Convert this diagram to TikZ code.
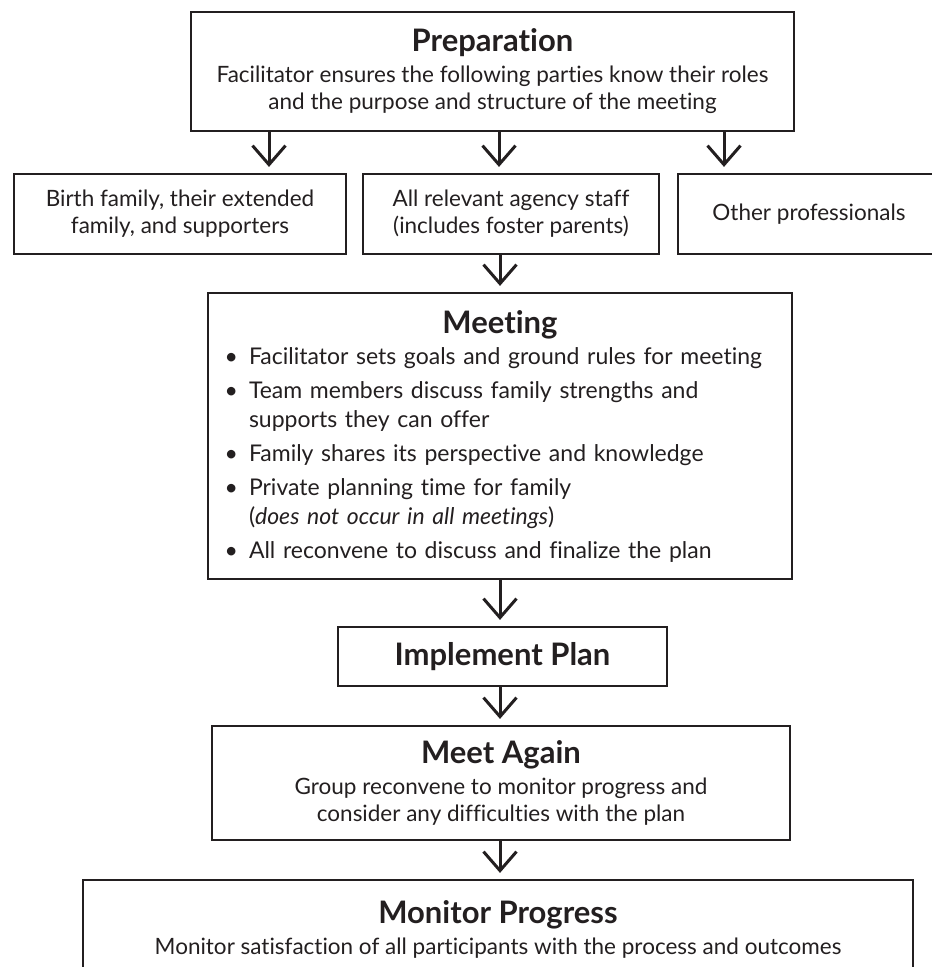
\documentclass[tikz,border=0pt]{standalone}
\usepackage{fontspec}
\setmainfont{Lato}[Ligatures=NoCommon]
\usetikzlibrary{positioning, arrows.meta, calc}
\definecolor{ink}{RGB}{35,31,32}
\newcommand{\ttl}[1]{{\fontsize{31}{27}\selectfont\bfseries #1}}

\begin{document}
\begin{tikzpicture}[x=1pt,y=-1pt,->,>={Straight Barb[length=19pt,width=33pt]},shorten >=6pt, line width=3pt, color=ink,
  box/.style={draw, shape=rectangle, align=center, inner sep=0pt, line width=2.2pt, font=\fontsize{22.5}{27}\selectfont}]
  \useasboundingbox (0,0) rectangle (932,967);
  % top box and the three parties
  \node[box, minimum width=603pt, minimum height=119pt] (prep) at (492.5,71.5)
    {\ttl{Preparation}\\[4pt] Facilitator ensures the following parties know their roles\\ and the purpose and structure of the meeting};
  \node[box, minimum width=332pt, minimum height=80pt] (birth) at (180,214) {Birth family, their extended\\ family, and supporters};
  \node[box, minimum width=296pt, minimum height=80pt] (staff) at (511,214) {All relevant agency staff\\ (includes foster parents)};
  \node[box, minimum width=262pt, minimum height=80pt] (other) at (809,214) {Other professionals};
  % meeting
  \node[box, text width=540pt, inner xsep=22pt, minimum height=286pt, align=left, font=\fontsize{23}{29}\selectfont] (meeting) at (500,436)
    {\parskip=0pt{\centering\ttl{Meeting}\par}
     \begin{list}{\makebox[8pt][r]{\textbullet}}{\setlength{\leftmargin}{19pt}\setlength{\labelwidth}{8pt}\setlength{\labelsep}{11pt}%
       \setlength{\itemsep}{5pt}\setlength{\parsep}{0pt}\setlength{\topsep}{2pt}\setlength{\partopsep}{0pt}}
     \item Facilitator sets goals and ground rules for meeting
     \item Team members discuss family strengths and\\ supports they can offer
     \item Family shares its perspective and knowledge
     \item Private planning time for family\\ (\textit{does not occur in all meetings})
     \item All reconvene to discuss and finalize the plan
     \end{list}};
  % follow up
  \node[box, minimum width=329pt, minimum height=59pt] (implement) at (502.5,656.5) {\ttl{Implement Plan}};
  \node[box, minimum width=578pt, minimum height=114pt] (again) at (501,783)
    {\ttl{Meet Again}\\[4pt] Group reconvene to monitor progress and\\ consider any difficulties with the plan};
  \node[box, minimum width=830pt, minimum height=98pt] (monitor) at (498,929)
    {\ttl{Monitor Progress}\\[4pt] Monitor satisfaction of all participants with the process and outcomes};
  \coordinate (prepL) at ([xshift=-223.5pt]prep.south);
  \coordinate (prepM) at ([xshift=6.5pt]prep.south);
  \coordinate (prepR) at ([xshift=231.5pt]prep.south);
  \path
    (prepL) edge (prepL |- birth.north)
    (prepM) edge (prepM |- staff.north)
    (prepR) edge (prepR |- other.north)
    (meeting.north |- staff.south) edge (meeting.north)
    (meeting.south) edge (meeting.south |- implement.north)
    (meeting.south |- implement.south) edge (meeting.south |- again.north)
    (meeting.south |- again.south) edge (meeting.south |- monitor.north);
\end{tikzpicture}
\end{document}
